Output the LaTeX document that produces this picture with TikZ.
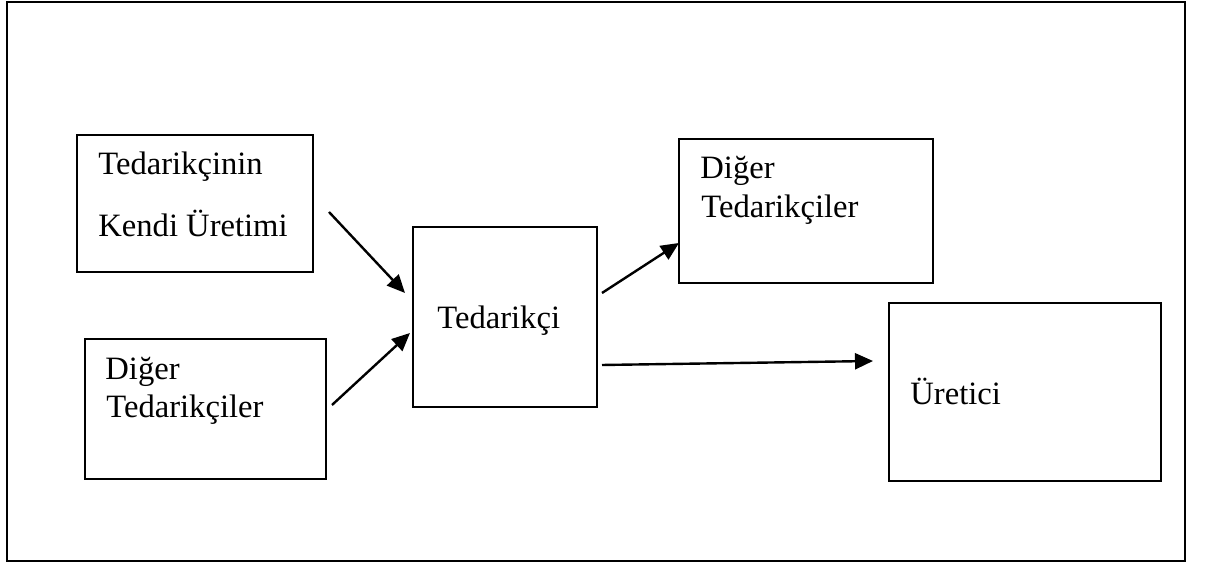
\documentclass[tikz,border=0pt]{standalone}
\usepackage{fontspec}
\setmainfont{Liberation Serif}
\usetikzlibrary{arrows.meta}

\tikzset{
  box/.style={draw, line width=0.6pt, inner sep=0pt},
  lbl/.style={anchor=base west, inner sep=0pt, font=\fontsize{16.3}{19}\selectfont},
  flow/.style={line width=1.2pt, -{Triangle[length=9pt,width=8pt]}}
}

\begin{document}
\begin{tikzpicture}[x=0.5pt, y=-0.5pt]
      \useasboundingbox (0,0) rectangle (1206,565);
      \draw[line width=1.3pt] (7,2) rectangle (1185,561);

      \node[box, minimum width=118pt, minimum height=68.5pt] (uretim) at (195,203.5) {};
      \node[box, minimum width=120.5pt, minimum height=70pt] (digerL) at (205.5,409) {};
      \node[box, minimum width=92pt, minimum height=90pt] (ted) at (505,317) {};
      \node[box, minimum width=127pt, minimum height=72pt] (digerR) at (806,211) {};
      \node[box, minimum width=136pt, minimum height=89pt] (uretici) at (1025,392) {};

      \node[lbl] (t1) at (98,175) {Tedarikçinin};
      \node[lbl] (t2) at (98,237) {Kendi Üretimi};
      \node[lbl] (t3) at (105,380) {Diğer};
      \node[lbl] (t4) at (106,418) {Tedarikçiler};
      \node[lbl] (t5) at (437,329) {Tedarikçi};
      \node[lbl] (t6) at (700,179) {Diğer};
      \node[lbl] (t7) at (701,218) {Tedarikçiler};
      \node[lbl] (t8) at (910,405) {Üretici};

      \coordinate (a1) at (329,212);
      \coordinate (a2) at (405,293);
      \coordinate (b1) at (332,405);
      \coordinate (b2) at (410,333);
      \coordinate (c1) at (602,293);
      \coordinate (c2) at (679,243);
      \coordinate (d1) at (602,365);
      \coordinate (d2) at (873,361);

      \draw[flow] (a1) -- (a2);
      \draw[flow] (b1) -- (b2);
      \draw[flow] (c1) -- (c2);
      \draw[flow] (d1) -- (d2);
\end{tikzpicture}
\end{document}
